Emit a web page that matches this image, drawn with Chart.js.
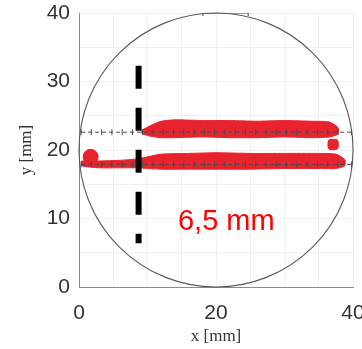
<!DOCTYPE html>
<html>
<head>
<meta charset="utf-8">
<script src="https://cdn.jsdelivr.net/npm/chart.js@4"></script>
<style>
  html, body { margin: 0; padding: 0; background: #fff; }
  #wrap { width: 362px; height: 349px; }
</style>
</head>
<body>
<div id="wrap"><canvas id="scanChart" width="362" height="349"></canvas></div>
<script>
// pipe outline (mm)
const circleCenter = [20, 20];
const circleRadius = 20;

// upper red band, edges
const upperBandX = [9.2, 10.5, 12, 14, 18, 22, 26, 30, 34, 36.5, 37.8];
const upperBandTop = [22.9, 23.6, 24.2, 24.4, 24.3, 24.3, 24.2, 24.3, 24.2, 24.1, 23.3];
const upperBandBottom = [22.4, 22.0, 21.8, 21.8, 21.9, 21.8, 21.8, 21.9, 21.8, 21.9, 22.3];

// lower red band, edges
const lowerBandX = [0.4, 3, 6, 8.5, 10, 12, 16, 20, 25, 30, 35, 37.5, 38.8];
const lowerBandTop = [18.4, 18.4, 18.5, 18.7, 19.0, 19.4, 19.5, 19.6, 19.5, 19.5, 19.5, 19.4, 18.6];
const lowerBandBottom = [17.7, 17.4, 17.4, 17.4, 17.3, 17.2, 17.2, 17.2, 17.2, 17.3, 17.3, 17.3, 17.7];

// small spots
const spotX = [1.7, 37.1];
const spotY = [19.0, 20.8];

// scan lines
const scanLineY = [22.6, 17.9];
const scanX = [0.3, 1.8, 3.3, 4.8, 6.3, 7.8, 9.3, 10.8, 12.3, 13.8, 15.3, 16.8, 18.3, 19.8,
               21.3, 22.8, 24.3, 25.8, 27.3, 28.8, 30.3, 31.8, 33.3, 34.8, 36.3, 37.8, 39.8];

// black marker line
const markerX = [8.7, 8.7];
const markerY = [32.3, 6.4];

// short segment on top of the pipe
const topSegX = [18.1, 24.7];
const topSegY = [40, 40];

const markerText = "6,5 mm";

const red = "#e8232d";

// build a closed outline from top and bottom edges
const bandShape = (xs, top, bottom) => {
    const pts = xs.map((x, i) => ({ x, y: top[i] }));
    for (let i = xs.length - 1; i >= 0; i--) pts.push({ x: xs[i], y: bottom[i] });
    pts.push({ x: xs[0], y: top[0] });
    return pts;
};

const scanDataset = (y) => ({
    data: scanX.map((x) => ({ x, y })),
    showLine: true,
    borderColor: "#4a4a4a",
    borderWidth: 1,
    borderDash: [4, 3],
    pointStyle: "line",
    rotation: 90,
    pointRadius: 3,
    pointBorderColor: "#4a4a4a",
    pointBorderWidth: 1,
    order: 2,
});

// no extra room for labels sticking out of the plot
const fixScale = (size, key) => (s) => {
    s[key] = size;
    s.paddingLeft = 0;
    s.paddingRight = 0;
    s.paddingTop = 0;
    s.paddingBottom = 0;
};

// circle under data, text over data
const pipePlugin = {
    id: "pipe",
    beforeDatasetsDraw(chart) {
        const { ctx, scales } = chart;
        const cx = scales.x.getPixelForValue(circleCenter[0]);
        const cy = scales.y.getPixelForValue(circleCenter[1]);
        const r = scales.x.getPixelForValue(circleCenter[0] + circleRadius) - cx;
        ctx.save();
        ctx.beginPath();
        ctx.arc(cx, cy, r, 0, Math.PI * 2);
        ctx.strokeStyle = "#5a5a5a";
        ctx.lineWidth = 1.1;
        ctx.stroke();
        ctx.restore();
    },
    afterDatasetsDraw(chart) {
        const { ctx, scales } = chart;
        ctx.save();
        ctx.font = "29px 'Liberation Sans', Arial, sans-serif";
        ctx.fillStyle = "#ff0000";
        ctx.textAlign = "left";
        ctx.textBaseline = "alphabetic";
        ctx.fillText(markerText, scales.x.getPixelForValue(14.45), scales.y.getPixelForValue(8.33));
        ctx.restore();
    },
};

const tickFont = { family: "'Liberation Sans', Arial, sans-serif", size: 21 };
const titleFont = { family: "'Liberation Serif', 'DejaVu Serif', serif", size: 17 };

new Chart(document.getElementById("scanChart").getContext("2d"), {
    type: "scatter",
    data: {
        datasets: [
            {
                data: markerX.map((x, i) => ({ x, y: markerY[i] })),
                showLine: true,
                borderColor: "#000",
                borderWidth: 6,
                borderDash: [23, 19],
                borderCapStyle: "butt",
                pointRadius: 0,
                order: 0,
            },
            scanDataset(scanLineY[0]),
            scanDataset(scanLineY[1]),
            {
                data: topSegX.map((x, i) => ({ x, y: topSegY[i] })),
                showLine: true,
                borderColor: "#4a4a4a",
                borderWidth: 1,
                pointStyle: "line",
                rotation: 90,
                pointRadius: 3,
                pointBorderColor: "#4a4a4a",
                order: 2,
            },
            {
                data: [{ x: spotX[0], y: spotY[0] }],
                backgroundColor: red,
                borderColor: red,
                pointRadius: 7.5,
                order: 3,
            },
            {
                data: [{ x: spotX[1], y: spotY[1] }],
                pointStyle: "rectRounded",
                backgroundColor: red,
                borderColor: red,
                pointRadius: 6,
                order: 3,
            },
            {
                data: bandShape(upperBandX, upperBandTop, upperBandBottom),
                showLine: true,
                fill: "shape",
                backgroundColor: red,
                borderColor: red,
                borderWidth: 1,
                pointRadius: 0,
                tension: 0.2,
                order: 4,
            },
            {
                data: bandShape(lowerBandX, lowerBandTop, lowerBandBottom),
                showLine: true,
                fill: "shape",
                backgroundColor: red,
                borderColor: red,
                borderWidth: 1,
                pointRadius: 0,
                tension: 0.2,
                order: 4,
            },
        ],
    },
    options: {
        responsive: false,
        animation: false,
        layout: { padding: { top: 13, right: 9, left: 0, bottom: 0 }, autoPadding: false },
        plugins: { legend: { display: false }, tooltip: { enabled: false } },
        elements: { line: { clip: false } },
        scales: {
            x: {
                type: "linear",
                min: 0,
                max: 40,
                afterFit: fixScale(62, "height"),
                border: { color: "#8c8c8c", width: 1 },
                grid: { color: "rgba(0,0,0,0.05)", drawTicks: false },
                ticks: {
                    stepSize: 5,
                    autoSkip: false,
                    maxRotation: 0,
                    padding: 14,
                    color: "#333",
                    font: tickFont,
                    callback: (v) => (v % 20 === 0 ? v : ""),
                },
                title: { display: true, text: "x [mm]", color: "#333", font: titleFont, padding: { top: 0, bottom: 2 } },
            },
            y: {
                type: "linear",
                min: 0,
                max: 40,
                afterFit: fixScale(79, "width"),
                border: { color: "#8c8c8c", width: 1 },
                grid: { color: "rgba(0,0,0,0.05)", drawTicks: false },
                ticks: {
                    stepSize: 5,
                    autoSkip: false,
                    padding: 9,
                    color: "#333",
                    font: tickFont,
                    callback: (v) => (v % 10 === 0 ? v : ""),
                },
                title: { display: true, text: "y [mm]", color: "#333", font: titleFont, padding: { top: 16, bottom: 0 } },
            },
        },
    },
    plugins: [pipePlugin],
});
</script>
</body>
</html>
